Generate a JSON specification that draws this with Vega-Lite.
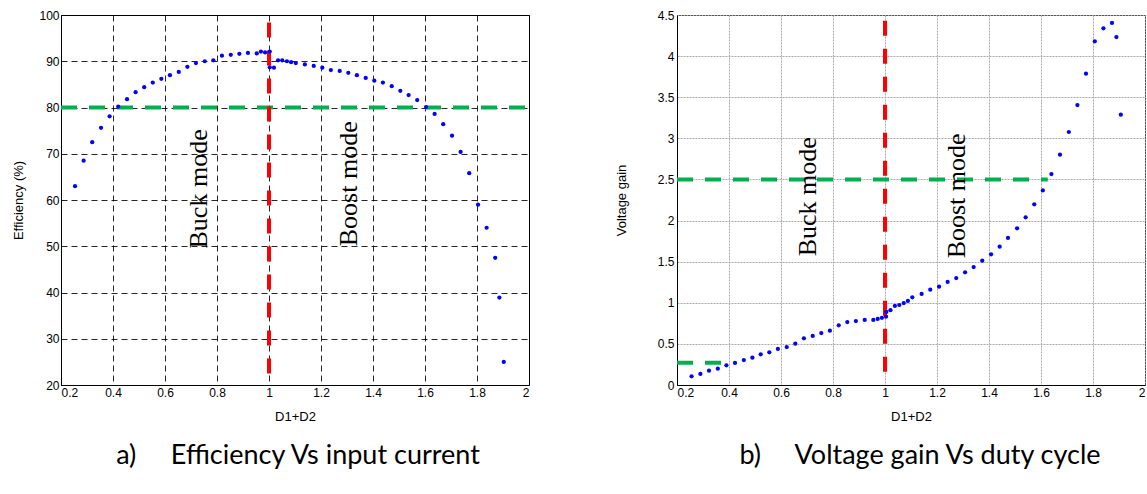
{
  "$schema": "https://vega.github.io/schema/vega-lite/v6.json",
  "background": "white",
  "padding": {"left": 11, "top": 8, "right": 0, "bottom": 0},
  "spacing": 82,
  "config": {
    "view": {"stroke": "black", "strokeWidth": 1},
    "axis": {
      "labelFont": "Liberation Sans", "labelFontSize": 12, "labelColor": "#000",
      "titleFont": "Liberation Sans", "titleFontWeight": "normal", "titleColor": "#000",
      "domainColor": "#000", "tickColor": "#000"
    }
  },
  "datasets": {
    "eff": [
      {"x":0.254,"y":63.0},{"x":0.287,"y":68.5},{"x":0.32,"y":72.5},{"x":0.354,"y":75.6},{"x":0.387,"y":78.1},{"x":0.42,"y":80.2},{"x":0.454,"y":81.8},{"x":0.487,"y":83.3},{"x":0.52,"y":84.4},{"x":0.553,"y":85.4},{"x":0.586,"y":86.2},{"x":0.619,"y":87.0},{"x":0.653,"y":87.7},{"x":0.686,"y":88.8},{"x":0.719,"y":89.6},{"x":0.753,"y":90.0},{"x":0.786,"y":90.2},{"x":0.819,"y":91.2},{"x":0.853,"y":91.4},{"x":0.886,"y":91.6},{"x":0.919,"y":91.8},{"x":0.953,"y":91.7},{"x":0.969,"y":92.1},{"x":0.985,"y":91.9},{"x":1.003,"y":92.1},{"x":1.003,"y":88.7},{"x":1.019,"y":88.6},{"x":1.035,"y":90.2},{"x":1.051,"y":90.2},{"x":1.069,"y":90.0},{"x":1.085,"y":89.8},{"x":1.103,"y":89.6},{"x":1.138,"y":89.3},{"x":1.172,"y":89.0},{"x":1.205,"y":88.6},{"x":1.238,"y":88.1},{"x":1.272,"y":87.9},{"x":1.305,"y":87.5},{"x":1.338,"y":87.0},{"x":1.372,"y":86.4},{"x":1.405,"y":85.8},{"x":1.438,"y":85.4},{"x":1.472,"y":84.6},{"x":1.505,"y":83.6},{"x":1.537,"y":82.7},{"x":1.57,"y":81.6},{"x":1.604,"y":80.1},{"x":1.637,"y":78.6},{"x":1.67,"y":76.4},{"x":1.704,"y":73.9},{"x":1.737,"y":70.4},{"x":1.77,"y":65.8},{"x":1.804,"y":59.0},{"x":1.837,"y":54.0},{"x":1.87,"y":47.5},{"x":1.886,"y":38.9},{"x":1.903,"y":25.0}
    ],
    "gain": [
      {"x":0.256,"y":0.106},{"x":0.29,"y":0.134},{"x":0.323,"y":0.174},{"x":0.357,"y":0.198},{"x":0.39,"y":0.239},{"x":0.423,"y":0.268},{"x":0.457,"y":0.304},{"x":0.49,"y":0.332},{"x":0.522,"y":0.373},{"x":0.555,"y":0.397},{"x":0.588,"y":0.438},{"x":0.622,"y":0.462},{"x":0.655,"y":0.503},{"x":0.688,"y":0.568},{"x":0.722,"y":0.596},{"x":0.755,"y":0.632},{"x":0.788,"y":0.661},{"x":0.822,"y":0.726},{"x":0.855,"y":0.766},{"x":0.888,"y":0.778},{"x":0.922,"y":0.791},{"x":0.955,"y":0.791},{"x":0.972,"y":0.803},{"x":0.988,"y":0.817},{"x":1.004,"y":0.831},{"x":1.005,"y":0.888},{"x":1.021,"y":0.91},{"x":1.038,"y":0.961},{"x":1.055,"y":0.973},{"x":1.072,"y":0.997},{"x":1.088,"y":1.022},{"x":1.105,"y":1.066},{"x":1.141,"y":1.107},{"x":1.174,"y":1.159},{"x":1.208,"y":1.196},{"x":1.241,"y":1.253},{"x":1.274,"y":1.301},{"x":1.308,"y":1.371},{"x":1.341,"y":1.435},{"x":1.374,"y":1.512},{"x":1.408,"y":1.59},{"x":1.441,"y":1.682},{"x":1.473,"y":1.788},{"x":1.508,"y":1.906},{"x":1.541,"y":2.04},{"x":1.574,"y":2.198},{"x":1.607,"y":2.366},{"x":1.64,"y":2.566},{"x":1.673,"y":2.801},{"x":1.707,"y":3.077},{"x":1.74,"y":3.405},{"x":1.773,"y":3.786},{"x":1.807,"y":4.18},{"x":1.84,"y":4.338},{"x":1.873,"y":4.403},{"x":1.89,"y":4.232},{"x":1.907,"y":3.287}
    ],
    "effV": [{"x":1,"y":22.5,"y2":98.5}],
    "effH": [{"x":0.2,"x2":2,"y":80}],
    "gainV": [{"x":1,"y":0.16,"y2":4.43}],
    "gainH": [{"x":0.2,"x2":1.626,"y":2.5},{"x":0.2,"x2":0.414,"y":0.271}],
    "effText": [{"x":0.731,"y":62.4,"label":"Buck mode"},{"x":1.308,"y":63.5,"label":"Boost mode"}],
    "gainText": [{"x":0.703,"y":2.29,"label":"Buck mode"},{"x":1.277,"y":2.3,"label":"Boost mode"}]
  },
  "hconcat": [
    {
      "width": 468, "height": 370,
      "title": {"text": "a)\u00a0\u00a0\u00a0\u00a0\u00a0Efficiency Vs input current", "orient": "bottom", "font": "Lato", "fontSize": 27, "fontWeight": "normal", "offset": 20, "dx": 3, "color": "#000"},
      "layer": [
        {
          "data": {"name": "effH"},
          "mark": {"type": "rule", "color": "#00b050", "strokeWidth": 4, "strokeDash": [16, 12]},
          "encoding": {
            "x": {"field": "x", "type": "quantitative", "scale": {"domain": [0.2, 2], "nice": false, "zero": false},
              "axis": {"values": [0.2,0.4,0.6,0.8,1,1.2,1.4,1.6,1.8,2], "format": "~g", "title": "D1+D2", "titleFontSize": 13, "titlePadding": 12,
                "labelPadding": 2, "ticks": false,
                "grid": true, "gridColor": "#000", "gridDash": [6, 4], "gridOpacity": 0.85}},
            "x2": {"field": "x2"},
            "y": {"field": "y", "type": "quantitative", "scale": {"domain": [20, 100], "nice": false, "zero": false},
              "axis": {"values": [20,30,40,50,60,70,80,90,100], "title": "Efficiency (%)", "titleFontSize": 13, "titlePadding": 10,
                "labelPadding": 2, "ticks": false, "minExtent": 26, "maxExtent": 26,
                "grid": true, "gridColor": "#000", "gridDash": [6, 4], "gridOpacity": 0.85}}
          }
        },
        {
          "data": {"name": "effV"},
          "mark": {"type": "rule", "color": "#ff0000", "strokeWidth": 4, "strokeDash": [15, 13]},
          "encoding": {
            "x": {"field": "x", "type": "quantitative"},
            "y": {"field": "y", "type": "quantitative"},
            "y2": {"field": "y2"}
          }
        },
        {
          "data": {"name": "eff"},
          "mark": {"type": "circle", "size": 18, "color": "#0000ff", "opacity": 1},
          "encoding": {
            "x": {"field": "x", "type": "quantitative"},
            "y": {"field": "y", "type": "quantitative"}
          }
        },
        {
          "data": {"name": "effText"},
          "mark": {"type": "text", "angle": 270, "font": "Liberation Serif", "fontSize": 26, "align": "center", "baseline": "middle", "color": "#000"},
          "encoding": {
            "x": {"field": "x", "type": "quantitative"},
            "y": {"field": "y", "type": "quantitative"},
            "text": {"field": "label"}
          }
        }
      ]
    },
    {
      "width": 468, "height": 370,
      "title": {"text": "b)\u00a0\u00a0\u00a0\u00a0\u00a0Voltage gain Vs duty cycle", "orient": "bottom", "font": "Lato", "fontSize": 27, "fontWeight": "normal", "offset": 20, "dx": 9, "color": "#000"},
      "layer": [
        {
          "data": {"name": "gainH"},
          "mark": {"type": "rule", "color": "#00b050", "strokeWidth": 4, "strokeDash": [16, 12]},
          "encoding": {
            "x": {"field": "x", "type": "quantitative", "scale": {"domain": [0.2, 2], "nice": false, "zero": false},
              "axis": {"values": [0.2,0.4,0.6,0.8,1,1.2,1.4,1.6,1.8,2], "format": "~g", "title": "D1+D2", "titleFontSize": 13, "titlePadding": 12,
                "labelPadding": 2, "ticks": false,
                "grid": true, "gridColor": "#aaaaaa", "gridDash": [2, 1]}},
            "x2": {"field": "x2"},
            "y": {"field": "y", "type": "quantitative", "scale": {"domain": [0, 4.5], "nice": false, "zero": false},
              "axis": {"values": [0,0.5,1,1.5,2,2.5,3,3.5,4,4.5], "format": "~g", "title": "Voltage gain", "titleFontSize": 13, "titlePadding": 23,
                "labelPadding": 3, "ticks": false, "minExtent": 26, "maxExtent": 26,
                "grid": true, "gridColor": "#aaaaaa", "gridDash": [2, 1]}}
          }
        },
        {
          "data": {"name": "gainV"},
          "mark": {"type": "rule", "color": "#ff0000", "strokeWidth": 4, "strokeDash": [15, 13]},
          "encoding": {
            "x": {"field": "x", "type": "quantitative"},
            "y": {"field": "y", "type": "quantitative"},
            "y2": {"field": "y2"}
          }
        },
        {
          "data": {"name": "gain"},
          "mark": {"type": "circle", "size": 18, "color": "#0000ff", "opacity": 1},
          "encoding": {
            "x": {"field": "x", "type": "quantitative"},
            "y": {"field": "y", "type": "quantitative"}
          }
        },
        {
          "data": {"name": "gainText"},
          "mark": {"type": "text", "angle": 270, "font": "Liberation Serif", "fontSize": 26, "align": "center", "baseline": "middle", "color": "#000"},
          "encoding": {
            "x": {"field": "x", "type": "quantitative"},
            "y": {"field": "y", "type": "quantitative"},
            "text": {"field": "label"}
          }
        }
      ]
    }
  ]
}
